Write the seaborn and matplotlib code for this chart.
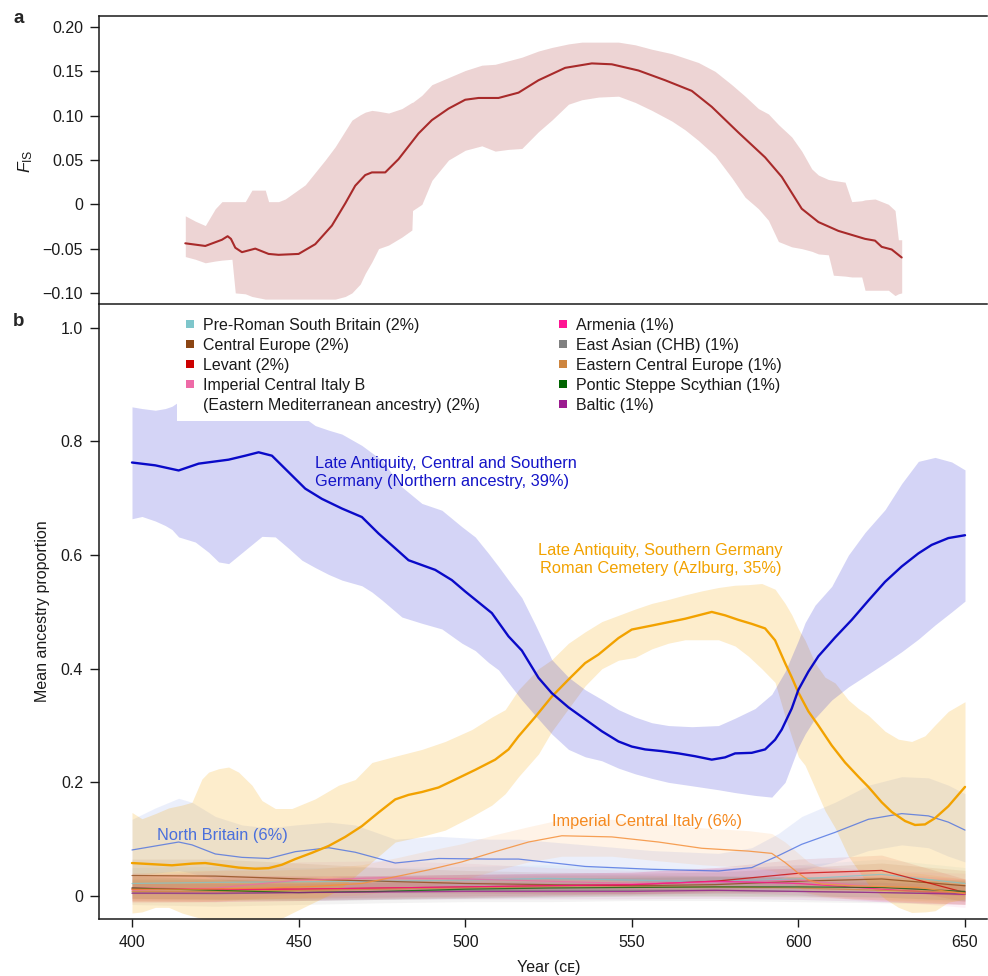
import matplotlib
matplotlib.use("Agg")
import matplotlib.pyplot as plt
from matplotlib.lines import Line2D
import seaborn as sns

# ---------------- panel a: F_IS through time ----------------
fis_year = [416, 422, 427, 428.7, 429.7, 431, 433, 435, 437, 441,
            444, 450, 455, 460, 464, 467, 470, 472, 476, 480,
            486, 490, 495, 500, 504, 510, 516, 522, 530, 538,
            544, 552, 560, 568, 574, 582, 590, 595, 601, 606,
            612, 620, 623, 625, 628, 631]
fis_mean = [-0.044, -0.047, -0.040, -0.036, -0.039, -0.049, -0.054, -0.052, -0.050, -0.056,
            -0.057, -0.056, -0.045, -0.024, 0.001, 0.021, 0.033, 0.036, 0.036, 0.051,
            0.080, 0.095, 0.108, 0.118, 0.120, 0.120, 0.126, 0.140, 0.154, 0.159,
            0.158, 0.151, 0.140, 0.128, 0.110, 0.081, 0.053, 0.031, -0.005, -0.020,
            -0.030, -0.039, -0.041, -0.048, -0.051, -0.060]

fis_band_year = [416, 419, 422, 425, 427, 430, 431, 434, 436, 440,
                 441, 444, 446, 449, 452, 455, 458, 461, 464, 466,
                 468.5, 470, 472, 474, 477, 481, 484, 484.2, 487, 490,
                 495, 500, 505, 509, 513, 517, 522, 526, 531, 535,
                 540, 546, 551, 556, 562, 566, 570, 575, 580, 584,
                 588, 591, 594, 598, 601, 604, 606, 609, 610.5, 614,
                 616, 619, 620, 623, 627, 629, 630, 631]
fis_hi = [-0.013, -0.019, -0.024, -0.005, 0.003, 0.003, 0.003, 0.003, 0.016, 0.016,
          0.003, 0.003, 0.006, 0.014, 0.022, 0.036, 0.050, 0.065, 0.083, 0.095,
          0.101, 0.104, 0.106, 0.105, 0.103, 0.108, 0.115, 0.115, 0.123, 0.135,
          0.143, 0.151, 0.157, 0.158, 0.162, 0.166, 0.173, 0.177, 0.181, 0.183,
          0.183, 0.183, 0.180, 0.175, 0.170, 0.165, 0.160, 0.150, 0.135, 0.122,
          0.108, 0.102, 0.090, 0.076, 0.060, 0.040, 0.033, 0.028, 0.027, 0.025,
          0.003, 0.004, 0.005, 0.006, 0.000, -0.007, -0.040, -0.040]
fis_lo = [-0.059, -0.062, -0.066, -0.064, -0.063, -0.062, -0.100, -0.101, -0.104, -0.107,
          -0.107, -0.107, -0.107, -0.107, -0.107, -0.107, -0.107, -0.107, -0.104, -0.100,
          -0.090, -0.078, -0.065, -0.050, -0.046, -0.037, -0.029, -0.007, 0.000, 0.027,
          0.050, 0.061, 0.066, 0.060, 0.062, 0.063, 0.082, 0.095, 0.113, 0.118,
          0.121, 0.122, 0.115, 0.106, 0.094, 0.084, 0.072, 0.055, 0.030, 0.008,
          -0.005, -0.018, -0.042, -0.048, -0.050, -0.053, -0.056, -0.057, -0.080, -0.081,
          -0.082, -0.082, -0.097, -0.097, -0.097, -0.103, -0.101, -0.100]

fis_ticks = [-0.10, -0.05, 0, 0.05, 0.10, 0.15, 0.20]
fis_ticklabels = ["\u22120.10", "\u22120.05", "0", "0.05", "0.10", "0.15", "0.20"]

# ---------------- panel b: mean ancestry proportion ----------------
year_ticks = [400, 450, 500, 550, 600, 650]
prop_ticks = [0, 0.2, 0.4, 0.6, 0.8, 1.0]
prop_ticklabels = ["0", "0.2", "0.4", "0.6", "0.8", "1.0"]

# Late Antiquity, Central and Southern Germany (Northern ancestry)
nb_year = [400, 407, 414, 420, 429, 434, 438, 442, 447, 452,
           457, 463, 469, 474, 479, 483, 491, 496, 500, 504,
           508, 513, 517, 522, 526, 531, 536, 541, 546, 550,
           554, 559, 564, 569, 574, 578, 581, 586, 590, 593,
           595, 598, 600, 603, 606, 611, 616, 621, 626, 631,
           636, 640, 645, 650]
nb_mean = [0.763, 0.758, 0.749, 0.761, 0.768, 0.775, 0.781, 0.775, 0.746, 0.717,
           0.699, 0.682, 0.667, 0.638, 0.612, 0.591, 0.574, 0.556, 0.536, 0.517,
           0.498, 0.457, 0.432, 0.384, 0.357, 0.332, 0.311, 0.290, 0.272, 0.263,
           0.258, 0.255, 0.251, 0.246, 0.240, 0.244, 0.251, 0.252, 0.258, 0.275,
           0.293, 0.330, 0.363, 0.395, 0.422, 0.455, 0.486, 0.520, 0.553, 0.580,
           0.603, 0.618, 0.630, 0.635]
nb_band_year = [400, 403, 407, 410, 412, 414, 419, 423, 426, 429,
                434, 439, 443, 447, 451, 455, 459, 463, 469, 472,
                475, 481, 487, 493, 499, 503, 507, 510, 513, 517,
                521, 526, 531, 536, 541, 546, 551, 556, 561, 568,
                576, 581, 587, 592, 596, 600, 602, 605, 610, 615,
                620, 626, 631, 636, 641, 646, 650]
nb_hi = [0.861, 0.858, 0.855, 0.858, 0.862, 0.870, 0.870, 0.870, 0.870, 0.870,
         0.870, 0.870, 0.870, 0.860, 0.845, 0.828, 0.820, 0.813, 0.793, 0.780,
         0.767, 0.720, 0.691, 0.679, 0.650, 0.632, 0.603, 0.580, 0.556, 0.525,
         0.478, 0.416, 0.385, 0.363, 0.346, 0.328, 0.315, 0.305, 0.300, 0.298,
         0.300, 0.313, 0.330, 0.355, 0.395, 0.450, 0.481, 0.512, 0.545, 0.600,
         0.640, 0.680, 0.726, 0.765, 0.772, 0.764, 0.750]
nb_lo = [0.664, 0.668, 0.660, 0.652, 0.645, 0.632, 0.623, 0.605, 0.588, 0.585,
         0.609, 0.633, 0.632, 0.612, 0.591, 0.578, 0.566, 0.556, 0.546, 0.535,
         0.521, 0.491, 0.480, 0.470, 0.445, 0.432, 0.411, 0.398, 0.375, 0.345,
         0.318, 0.285, 0.258, 0.245, 0.238, 0.225, 0.215, 0.207, 0.200, 0.194,
         0.187, 0.182, 0.177, 0.174, 0.200, 0.262, 0.285, 0.313, 0.345, 0.368,
         0.387, 0.410, 0.430, 0.452, 0.477, 0.500, 0.519]

# Late Antiquity, Southern Germany Roman Cemetery (Azlburg)
az_year = [400, 406, 412, 418, 422, 427, 432, 437, 441, 445,
           449, 454, 459, 464, 469, 474, 479, 483, 487, 492,
           497, 503, 509, 513, 516, 521, 526, 531, 536, 540,
           546, 550, 556, 561, 566, 570, 574, 578, 582, 586,
           590, 593, 596, 598, 600, 603, 606, 610, 614, 618,
           621, 625, 628, 632, 635, 638, 641, 645, 650]
az_mean = [0.058, 0.056, 0.054, 0.057, 0.058, 0.054, 0.050, 0.048, 0.049, 0.055,
           0.065, 0.076, 0.088, 0.104, 0.123, 0.147, 0.170, 0.178, 0.183, 0.191,
           0.205, 0.222, 0.240, 0.258, 0.281, 0.315, 0.351, 0.381, 0.410, 0.425,
           0.454, 0.469, 0.476, 0.482, 0.488, 0.494, 0.500, 0.494, 0.486, 0.479,
           0.471, 0.450, 0.410, 0.385, 0.358, 0.325, 0.300, 0.265, 0.235, 0.210,
           0.192, 0.165, 0.148, 0.132, 0.125, 0.126, 0.137, 0.158, 0.192]
az_band_year = [400, 403, 407, 411, 415, 418, 421, 423, 426, 429,
                432, 436, 439, 443, 448, 455, 462, 467, 472, 479,
                487, 494, 502, 508, 512, 516, 522, 526, 531, 536,
                541, 546, 551, 556, 561, 566, 571, 576, 581, 585,
                589, 593, 596, 598, 600, 602, 605, 608, 611, 615,
                618, 621, 626, 630, 634, 638, 641, 645, 650]
az_hi = [0.147, 0.136, 0.145, 0.155, 0.160, 0.165, 0.206, 0.218, 0.224, 0.227,
         0.218, 0.195, 0.168, 0.154, 0.154, 0.171, 0.195, 0.205, 0.235, 0.246,
         0.258, 0.272, 0.293, 0.315, 0.328, 0.363, 0.400, 0.416, 0.445, 0.465,
         0.483, 0.494, 0.505, 0.515, 0.522, 0.530, 0.537, 0.543, 0.547, 0.548,
         0.550, 0.540, 0.515, 0.495, 0.470, 0.450, 0.410, 0.385, 0.375, 0.345,
         0.330, 0.318, 0.290, 0.276, 0.272, 0.282, 0.301, 0.325, 0.342]
az_lo = [-0.030, -0.028, -0.020, -0.020, -0.030, -0.035, -0.040, -0.042, -0.045, -0.045,
         -0.045, -0.045, -0.045, -0.045, -0.030, -0.010, 0.010, 0.035, 0.060, 0.095,
         0.105, 0.116, 0.140, 0.160, 0.180, 0.210, 0.250, 0.290, 0.330, 0.370,
         0.400, 0.415, 0.420, 0.435, 0.445, 0.451, 0.451, 0.451, 0.440, 0.422,
         0.400, 0.376, 0.316, 0.280, 0.245, 0.230, 0.190, 0.150, 0.120, 0.070,
         0.045, 0.020, -0.005, -0.020, -0.029, -0.028, -0.026, -0.011, -0.005]

# North Britain
nbr_year = [400, 407, 414, 418, 425, 433, 441, 449, 459, 467,
            479, 492, 507, 516, 536, 556, 576, 586, 594, 601,
            611, 621, 631, 639, 645, 650]
nbr_mean = [0.081, 0.088, 0.095, 0.090, 0.074, 0.068, 0.066, 0.078, 0.085, 0.077,
            0.058, 0.066, 0.065, 0.065, 0.052, 0.047, 0.044, 0.050, 0.071, 0.091,
            0.112, 0.135, 0.145, 0.141, 0.130, 0.116]
nbr_lo = [0.035, 0.040, 0.045, 0.040, 0.030, 0.025, 0.025, 0.030, 0.035, 0.030,
          0.025, 0.030, 0.030, 0.030, 0.030, 0.025, 0.022, 0.022, 0.030, 0.045,
          0.060, 0.080, 0.090, 0.085, 0.070, 0.060]
nbr_hi = [0.135, 0.155, 0.172, 0.165, 0.140, 0.125, 0.120, 0.125, 0.130, 0.125,
          0.100, 0.105, 0.100, 0.100, 0.090, 0.080, 0.075, 0.085, 0.110, 0.140,
          0.165, 0.195, 0.210, 0.208, 0.195, 0.180]

# Imperial Central Italy
ici_year = [400, 420, 440, 455, 469, 480, 489, 499, 509, 519,
            529, 544, 558, 571, 585, 592, 596, 600, 603, 607,
            616, 636, 650]
ici_mean = [0.012, 0.012, 0.014, 0.017, 0.022, 0.035, 0.046, 0.060, 0.078, 0.095,
            0.106, 0.104, 0.095, 0.084, 0.079, 0.075, 0.059, 0.040, 0.028, 0.021,
            0.018, 0.015, 0.004]
ici_lo = [-0.010, -0.010, -0.005, -0.002, 0.002, 0.010, 0.018, 0.028, 0.045, 0.060,
          0.070, 0.070, 0.062, 0.055, 0.050, 0.045, 0.035, 0.015, 0.005, 0.000,
          -0.005, -0.010, -0.015]
ici_hi = [0.040, 0.045, 0.045, 0.048, 0.055, 0.068, 0.080, 0.092, 0.108, 0.122,
          0.135, 0.135, 0.128, 0.120, 0.115, 0.110, 0.095, 0.075, 0.060, 0.050,
          0.045, 0.040, 0.030]

# minor sources (legend entries), sampled every 25 years
minor_year = [400, 425, 450, 475, 500, 525, 550, 575, 600, 625, 650]

prsb_mean = [0.022, 0.024, 0.025, 0.026, 0.028, 0.031, 0.028, 0.025, 0.030, 0.038, 0.022]
prsb_lo = [0.002, 0.004, 0.006, 0.008, 0.010, 0.012, 0.010, 0.008, 0.010, 0.015, 0.000]
prsb_hi = [0.050, 0.052, 0.050, 0.050, 0.052, 0.055, 0.050, 0.048, 0.055, 0.065, 0.050]

ceu_mean = [0.036, 0.035, 0.030, 0.026, 0.022, 0.020, 0.018, 0.020, 0.026, 0.030, 0.018]
ceu_lo = [0.010, 0.010, 0.008, 0.006, 0.005, 0.004, 0.004, 0.005, 0.008, 0.010, 0.000]
ceu_hi = [0.065, 0.065, 0.058, 0.050, 0.045, 0.042, 0.040, 0.042, 0.050, 0.058, 0.045]

lev_mean = [0.012, 0.012, 0.012, 0.014, 0.016, 0.018, 0.020, 0.026, 0.040, 0.045, 0.006]
lev_lo = [-0.005, -0.005, -0.004, -0.002, 0.000, 0.002, 0.004, 0.008, 0.018, 0.020, -0.010]
lev_hi = [0.035, 0.035, 0.035, 0.036, 0.038, 0.040, 0.042, 0.050, 0.065, 0.072, 0.030]

icib_mean = [0.010, 0.014, 0.028, 0.032, 0.030, 0.026, 0.022, 0.024, 0.028, 0.015, 0.008]
icib_lo = [-0.012, -0.010, 0.004, 0.008, 0.008, 0.006, 0.004, 0.004, 0.006, -0.008, -0.020]
icib_hi = [0.035, 0.045, 0.060, 0.062, 0.058, 0.050, 0.045, 0.048, 0.055, 0.045, 0.040]

arm_mean = [0.014, 0.012, 0.012, 0.014, 0.016, 0.018, 0.020, 0.026, 0.022, 0.012, 0.003]
arm_lo = [-0.008, -0.010, -0.008, -0.005, -0.003, 0.000, 0.002, 0.006, 0.002, -0.010, -0.015]
arm_hi = [0.040, 0.038, 0.035, 0.036, 0.038, 0.040, 0.042, 0.050, 0.048, 0.040, 0.030]

chb_mean = [0.005, 0.004, 0.006, 0.008, 0.010, 0.010, 0.010, 0.010, 0.008, 0.006, 0.004]
chb_lo = [-0.015, -0.018, -0.015, -0.012, -0.010, -0.010, -0.008, -0.008, -0.010, -0.012, -0.015]
chb_hi = [0.030, 0.030, 0.032, 0.035, 0.038, 0.038, 0.038, 0.036, 0.032, 0.028, 0.026]

ece_mean = [0.008, 0.008, 0.010, 0.012, 0.014, 0.016, 0.016, 0.016, 0.014, 0.010, 0.006]
ece_lo = [-0.008, -0.008, -0.006, -0.004, -0.002, 0.000, 0.000, 0.000, -0.002, -0.006, -0.010]
ece_hi = [0.028, 0.028, 0.030, 0.032, 0.034, 0.036, 0.036, 0.036, 0.034, 0.030, 0.025]

pss_mean = [0.014, 0.010, 0.006, 0.008, 0.012, 0.014, 0.015, 0.016, 0.016, 0.015, 0.008]
pss_lo = [-0.004, -0.006, -0.008, -0.006, -0.004, -0.002, 0.000, 0.000, 0.000, -0.002, -0.008]
pss_hi = [0.035, 0.030, 0.025, 0.026, 0.030, 0.032, 0.033, 0.034, 0.034, 0.034, 0.028]

bal_mean = [0.005, 0.005, 0.006, 0.007, 0.008, 0.008, 0.008, 0.010, 0.008, 0.006, 0.003]
bal_lo = [-0.010, -0.010, -0.008, -0.006, -0.005, -0.005, -0.005, -0.004, -0.006, -0.010, -0.014]
bal_hi = [0.022, 0.022, 0.022, 0.024, 0.025, 0.025, 0.025, 0.028, 0.026, 0.024, 0.020]

left_labels = ["Pre-Roman South Britain (2%)", "Central Europe (2%)", "Levant (2%)",
               "Imperial Central Italy B", "(Eastern Mediterranean ancestry) (2%)"]
right_labels = ["Armenia (1%)", "East Asian (CHB) (1%)", "Eastern Central Europe (1%)",
                "Pontic Steppe Scythian (1%)", "Baltic (1%)"]

# ---------------- style ----------------
sns.set_theme(style="ticks")
plt.rcParams["font.family"] = ["Liberation Sans", "DejaVu Sans"]
plt.rcParams["mathtext.fontset"] = "custom"
plt.rcParams["mathtext.rm"] = "Liberation Sans"
plt.rcParams["mathtext.it"] = "Liberation Sans:italic"
plt.rcParams["axes.unicode_minus"] = True

FS = 11.5
FS_NOTE = 11.8
INK = "#1a1a1a"
W, H = 988, 976

fig = plt.figure(figsize=(W / 100, H / 100), dpi=100)
ax_a = fig.add_axes([99 / W, 1 - 304 / H, 888 / W, 288 / H])
ax_b = fig.add_axes([99 / W, 1 - 919 / H, 888 / W, 615 / H])

xlim = (390.1, 656.6)

# ---- panel a ----
ax_a.fill_between(fis_band_year, fis_lo, fis_hi, color="#a52a2a", alpha=0.2, linewidth=0)
sns.lineplot(x=fis_year, y=fis_mean, ax=ax_a, color="#a82a2a", linewidth=1.5, sort=False)
ax_a.set_xlim(*xlim)
ax_a.set_ylim(-0.1125, 0.2125)
ax_a.set_yticks(fis_ticks)
ax_a.set_yticklabels(fis_ticklabels)
ax_a.tick_params(axis="x", bottom=False, labelbottom=False)
ax_a.set_xlabel("")
ax_a.set_ylabel(r"$F_{\mathrm{IS}}$", fontsize=12.5, color=INK)
ax_a.yaxis.set_label_coords(-0.072, 0.497)
ax_a.spines["right"].set_visible(False)
for s in ("top", "left", "bottom"):
    ax_a.spines[s].set_linewidth(1.1)
    ax_a.spines[s].set_color(INK)

# ---- panel b ----
minor = [
    ("#7ec6cb", prsb_mean, prsb_lo, prsb_hi),
    ("#8b4513", ceu_mean, ceu_lo, ceu_hi),
    ("#cc0000", lev_mean, lev_lo, lev_hi),
    ("#ee6aa7", icib_mean, icib_lo, icib_hi),
    ("#ff1493", arm_mean, arm_lo, arm_hi),
    ("#808080", chb_mean, chb_lo, chb_hi),
    ("#cd853f", ece_mean, ece_lo, ece_hi),
    ("#006400", pss_mean, pss_lo, pss_hi),
    ("#9b1b8f", bal_mean, bal_lo, bal_hi),
]
for col, m, lo, hi in minor:
    ax_b.fill_between(minor_year, lo, hi, color=col, alpha=0.09, linewidth=0, zorder=1)

ax_b.fill_between(nbr_year, nbr_lo, nbr_hi, color="#4169e1", alpha=0.1, linewidth=0, zorder=1)
ax_b.fill_between(ici_year, ici_lo, ici_hi, color="#ff8c1a", alpha=0.1, linewidth=0, zorder=1)
ax_b.fill_between(az_band_year, az_lo, az_hi, color="#f6a500", alpha=0.2, linewidth=0, zorder=1)
ax_b.fill_between(nb_band_year, nb_lo, nb_hi, color="#0000cd", alpha=0.17, linewidth=0, zorder=1)

for col, m, lo, hi in minor:
    sns.lineplot(x=minor_year, y=m, ax=ax_b, color=col, linewidth=0.9, alpha=0.75, zorder=2)
sns.lineplot(x=nbr_year, y=nbr_mean, ax=ax_b, color="#4169e1", linewidth=0.9, alpha=0.75, zorder=2)
sns.lineplot(x=ici_year, y=ici_mean, ax=ax_b, color="#f5903a", linewidth=0.9, alpha=0.85, zorder=2)
sns.lineplot(x=az_year, y=az_mean, ax=ax_b, color="#f2a200", linewidth=1.7, zorder=3)
sns.lineplot(x=nb_year, y=nb_mean, ax=ax_b, color="#0a0ac8", linewidth=1.7, zorder=3)

ax_b.set_xlim(*xlim)
ax_b.set_ylim(-0.0405, 1.042)
ax_b.set_xticks(year_ticks)
ax_b.set_xticklabels([str(v) for v in year_ticks])
ax_b.set_yticks(prop_ticks)
ax_b.set_yticklabels(prop_ticklabels)
ax_b.set_xlabel("Year (\u1d04\u1d07)", fontsize=FS, color=INK)
ax_b.xaxis.set_label_coords(0.506, -0.066)
ax_b.xaxis.label.set_verticalalignment("top")
ax_b.set_ylabel("Mean ancestry proportion", fontsize=FS, color=INK)
ax_b.yaxis.set_label_coords(-0.055, 0.5)
ax_b.spines["right"].set_visible(False)
ax_b.spines["top"].set_visible(False)
for s in ("left", "bottom"):
    ax_b.spines[s].set_linewidth(1.1)
    ax_b.spines[s].set_color(INK)

for ax in (ax_a, ax_b):
    ax.tick_params(axis="y", length=6.5, width=1.0, pad=5, labelsize=FS, colors=INK)
    ax.set_facecolor("none")
ax_b.tick_params(axis="x", length=5.5, width=1.0, pad=6, labelsize=FS, colors=INK)

# annotations for the named sources
ax_b.text(454.9, 0.745, "Late Antiquity, Central and Southern\nGermany (Northern ancestry, 39%)",
          color="#1414c8", fontsize=FS_NOTE, ha="left", va="center", linespacing=1.22, zorder=4)
ax_b.text(558.7, 0.592, "Late Antiquity, Southern Germany\nRoman Cemetery (Azlburg, 35%)",
          color="#f2a200", fontsize=FS_NOTE, ha="center", va="center", multialignment="center",
          linespacing=1.22, zorder=4)
ax_b.text(407.5, 0.106, "North Britain (6%)", color="#4a6fdc", fontsize=FS_NOTE,
          ha="left", va="center", zorder=4)
ax_b.text(526.0, 0.131, "Imperial Central Italy (6%)", color="#f5891f", fontsize=FS_NOTE,
          ha="left", va="center", zorder=4)

# legend of the minor sources, two columns
def sq(c):
    return Line2D([], [], marker="s", linestyle="none", markersize=6,
                  markerfacecolor=c, markeredgewidth=0)

left_handles = [sq("#7ec6cb"), sq("#8b4513"), sq("#cc0000"), sq("#ee6aa7"),
                Line2D([], [], linestyle="none")]
right_handles = [sq("#ff1493"), sq("#808080"), sq("#cd853f"), sq("#006400"), sq("#9b1b8f")]

leg_kw = dict(loc="upper left", bbox_transform=fig.transFigure, fontsize=FS,
              handlelength=0.6, handletextpad=0.55, labelspacing=0.31, borderpad=0.5,
              borderaxespad=0, fancybox=False, labelcolor=INK)
leg1 = ax_b.legend(left_handles, left_labels, bbox_to_anchor=(177 / W, 1 - 310 / H),
                   frameon=True, facecolor="white", edgecolor="none", framealpha=1, **leg_kw)
leg1.set_zorder(5)
ax_b.add_artist(leg1)
leg2 = ax_b.legend(right_handles, right_labels, bbox_to_anchor=(550 / W, 1 - 310 / H),
                   frameon=False, **leg_kw)
leg2.set_zorder(5)

fig.text(18.5 / W, 1 - 18.5 / H, "a", fontsize=13.5, fontweight="bold", ha="center", va="center")
fig.text(19 / W, 1 - 322 / H, "b", fontsize=13.5, fontweight="bold", ha="center", va="center")

fig.savefig("out.png", dpi=100)
